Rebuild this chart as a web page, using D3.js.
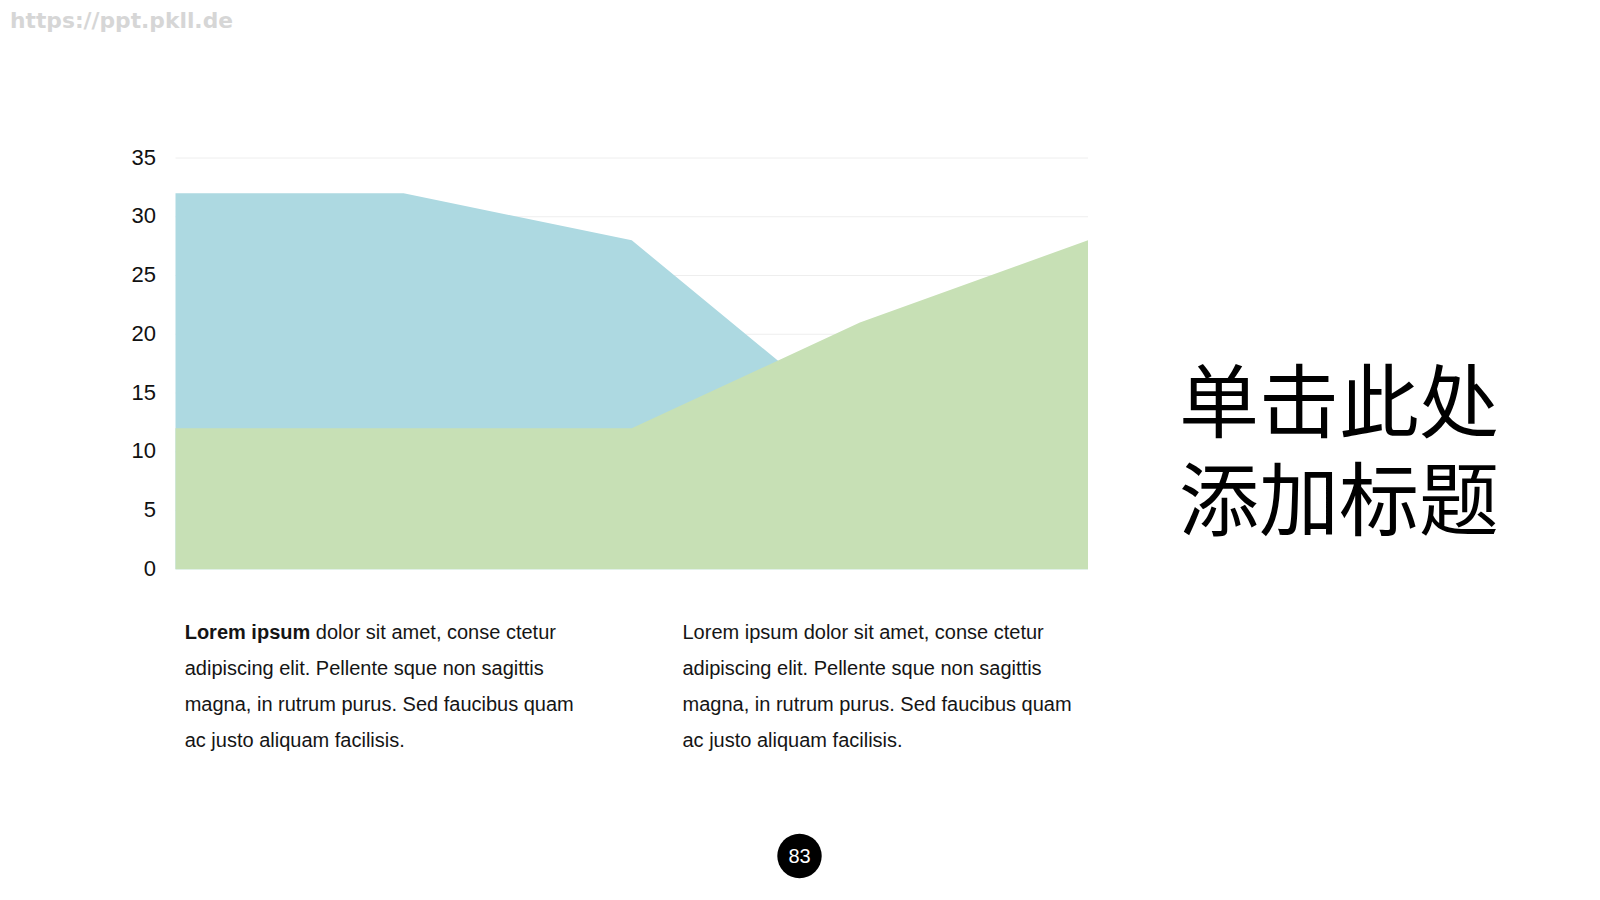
<!DOCTYPE html>
<html>
<head>
<meta charset="utf-8">
<script src="https://cdn.jsdelivr.net/npm/d3@7"></script>
<style>
  html, body { margin: 0; padding: 0; background: #fff; }
  svg { display: block; }
</style>
</head>
<body>
<svg id="chart" width="1600" height="900"></svg>
<script>
// ---- data ----
const categories = ["A", "B", "C", "D", "E"];
const seriesBlue = [32, 32, 28, 12, 15];
const seriesGreen = [12, 12, 12, 21, 28];
const yTicks = [0, 5, 10, 15, 20, 25, 30, 35];
const titleLines = ["单击此处", "添加标题"];
const paraLines = [
  "dolor sit amet, conse ctetur",
  "adipiscing elit. Pellente sque non sagittis",
  "magna, in rutrum purus. Sed faucibus quam",
  "ac justo aliquam facilisis."
];
const paraLines2 = [
  "Lorem ipsum dolor sit amet, conse ctetur",
  "adipiscing elit. Pellente sque non sagittis",
  "magna, in rutrum purus. Sed faucibus quam",
  "ac justo aliquam facilisis."
];
const pageNumber = "83";

const svg = d3.select("#chart");
const sans = "Liberation Sans, Arial, sans-serif";

// watermark
svg.append("text").attr("x", 10).attr("y", 28)
  .attr("font-family", "DejaVu Sans, sans-serif").attr("font-weight", "bold")
  .attr("font-size", 21).attr("fill", "#d6d6d6")
  .attr("textLength", 223).attr("lengthAdjust", "spacingAndGlyphs")
  .text("https://ppt.pkll.de");

// scales
const x = d3.scalePoint().domain(categories).range([175.5, 1088]);
const y = d3.scaleLinear().domain([0, 35]).range([569.3, 158]);

// gridlines
svg.append("g").selectAll("line").data(yTicks.filter(d => d > 0)).join("line")
  .attr("x1", 175.5).attr("x2", 1088)
  .attr("y1", d => y(d)).attr("y2", d => y(d))
  .attr("stroke", "#eeeeee").attr("stroke-width", 1);

// y axis labels
const yAxis = d3.axisLeft(y).tickValues(yTicks).tickSize(0).tickPadding(0);
const gy = svg.append("g").attr("transform", "translate(156,-1)").call(yAxis);
gy.select(".domain").remove();
gy.selectAll("text").attr("font-family", sans).attr("font-size", 22).attr("fill", "#111");

// areas
const area = vals => d3.area()
  .x((d, i) => x(categories[i]))
  .y0(y(0)).y1(d => y(d))(vals);
svg.append("path").attr("d", area(seriesBlue)).attr("fill", "#ADD9E1");
svg.append("path").attr("d", area(seriesGreen)).attr("fill", "#C7E0B5");

// paragraphs
const lineGap = 36, base0 = 639.3;
const p1 = svg.append("g").attr("font-family", sans).attr("font-size", 20).attr("fill", "#151515");
paraLines.forEach((t, i) => {
  const tx = p1.append("text").attr("x", 184.7).attr("y", base0 + i * lineGap);
  if (i === 0) {
    tx.append("tspan").attr("font-weight", "bold").text("Lorem ipsum ");
  }
  tx.append("tspan").text(t);
});
const p2 = svg.append("g").attr("font-family", sans).attr("font-size", 20).attr("fill", "#151515");
paraLines2.forEach((t, i) => {
  p2.append("text").attr("x", 682.5).attr("y", base0 + i * lineGap).text(t);
});

// title (one text block, two lines)
const title = svg.append("text").attr("font-family", "Noto Sans CJK SC, sans-serif")
  .attr("font-size", 80).attr("fill", "#000");
titleLines.forEach((t, i) => {
  title.append("tspan").attr("x", 1179).attr("y", 431 + i * 98).text(t);
});

// page number
svg.append("circle").attr("cx", 799.5).attr("cy", 856).attr("r", 22.2).attr("fill", "#000");
svg.append("text").attr("x", 799.5).attr("y", 856).attr("dy", "0.35em")
  .attr("text-anchor", "middle").attr("font-family", sans).attr("font-size", 20)
  .attr("fill", "#fff").text(pageNumber);
</script>
</body>
</html>
